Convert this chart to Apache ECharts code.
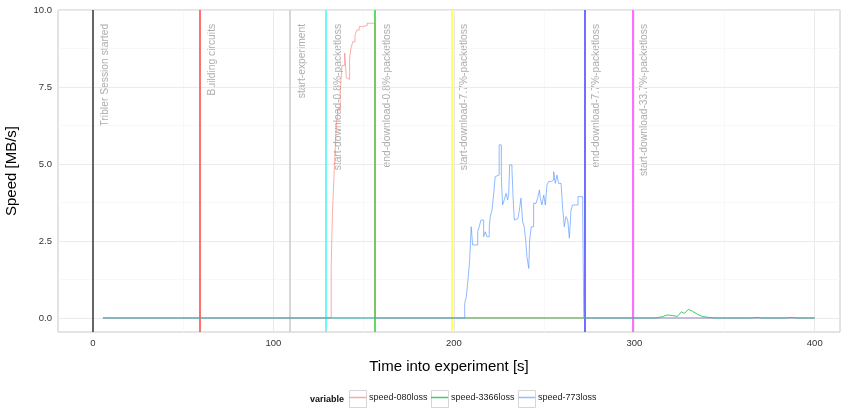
<!DOCTYPE html>
<html><head><meta charset="utf-8">
<script src="https://cdn.jsdelivr.net/npm/echarts@6/dist/echarts.min.js"></script>
<style>html,body{margin:0;padding:0;background:#fff}#c{width:842px;height:409px}</style>
</head><body><div id="c"></div>
<script>
// ---- data ----
const seriesNames = ['speed-080loss', 'speed-3366loss', 'speed-773loss'];

const t080 = [5.5, 132.0, 132.7, 133.8, 134.8, 135.8, 137.0, 138.0, 139.5, 140.4, 141.5, 142.2, 143.0, 144.0, 145.2, 146.3, 147.5, 149.5, 152.0, 156.4, 400];
const v080 = [0, 1.67, 3.42, 4.97, 6.2, 6.8, 7.35, 8.2, 8.6, 7.8, 7.75, 8.45, 8.77, 8.97, 9.19, 9.35, 9.46, 9.5, 9.57, 0, 0];

const t3366 = [5.5, 312, 316, 318.3, 321, 323.9, 326.1, 327.8, 330, 332.2, 335, 337.7, 341, 345, 365, 368, 371, 384, 387, 390, 400];
const v3366 = [0, 0, 0.05, 0.1, 0.08, 0.05, 0.2, 0.15, 0.28, 0.22, 0.12, 0.05, 0.02, 0, 0, 0.02, 0, 0, 0.02, 0, 0];

const t773 = [5.5, 206.0, 206.9, 207.8, 208.7, 209.6, 210.4, 213.2, 214.3, 215.0, 216.5, 217.4, 218.3, 219.6, 220.2, 221.1, 222.0, 222.9, 223.8, 225.1, 226.3, 227.0, 227.9, 228.9, 229.8, 230.4, 230.9, 232.2, 232.8, 233.5, 234.6, 235.5, 236.3, 237.2, 238.1, 239.0, 239.8, 240.5, 241.5, 242.0, 242.9, 244.2, 245.5, 246.4, 247.4, 247.9, 248.8, 249.8, 250.7, 251.6, 252.5, 253.8, 255.3, 256.2, 257.1, 258.1, 259.4, 260.3, 261.2, 262.1, 263.1, 264.0, 264.9, 265.8, 268.8, 271.4, 272.0, 400];
const v773 = [0, 0.48, 0.69, 1.23, 1.83, 2.96, 2.37, 2.8, 3.02, 3.18, 2.64, 2.8, 2.64, 2.96, 3.29, 3.5, 3.99, 4.59, 4.64, 5.62, 4.59, 3.67, 3.83, 4.05, 3.83, 4.05, 4.97, 4.8, 3.94, 3.18, 3.23, 3.18, 3.5, 3.89, 3.13, 2.96, 2.53, 1.99, 1.61, 2.53, 2.96, 3.72, 3.78, 3.89, 4.16, 3.89, 3.67, 3.99, 3.67, 4.32, 4.43, 4.48, 4.75, 4.37, 4.64, 4.37, 4.43, 3.56, 2.96, 3.29, 3.18, 2.59, 3.5, 3.67, 3.94, 3.4, 0, 0];

const eventTimes = [0, 59.3, 109.3, 129.2, 156.4, 199.1, 272.3, 298.9];
const eventLabels = ['Tribler Session started', 'Building circuits', 'start-experiment',
  'start-download-0.8%-packetloss', 'end-download-0.8%-packetloss',
  'start-download-7.7%-packetloss', 'end-download-7.7%-packetloss',
  'start-download-33.7%-packetloss'];
const eventLabelY = 9.55;

const xTicks = [0, 100, 200, 300, 400];
const xMinor = [50, 150, 250, 350];
const yTicks = [0, 2.5, 5, 7.5, 10];
const yMinor = [1.25, 3.75, 6.25, 8.75];

// ---- styles ----
const FONT = '"Liberation Sans", Arial, Helvetica, sans-serif';
const eventColors = ['#555555', '#ff6060', '#d3d3d3', '#5ff8f8', '#4fd84f', '#ffff5a', '#6060ff', '#ff60ff'];
const seriesColors = ['rgba(248,118,109,0.6)', 'rgba(0,186,56,0.75)', 'rgba(97,156,255,0.7)'];
const legendColors = ['#f9aaa5', '#45c96f', '#95bcff'];
const legendLeft = [349, 431, 518];

function pairs(t, v) { return t.map((x, i) => [x, v[i]]); }

const chart = echarts.init(document.getElementById('c'), null, { renderer: 'canvas' });

const gridLines = [].concat(
  xMinor.map(x => ({ xAxis: x, lineStyle: { color: '#f5f5f5', width: 0.7, type: 'solid' } })),
  yMinor.map(y => ({ yAxis: y, lineStyle: { color: '#f5f5f5', width: 0.7, type: 'solid' } })),
  xTicks.map(x => ({ xAxis: x, lineStyle: { color: '#ebebeb', width: 1, type: 'solid' } })),
  yTicks.map(y => ({ yAxis: y, lineStyle: { color: '#ebebeb', width: 1, type: 'solid' } }))
);

const dataSeries = [[t080, v080, 'end'], [t3366, v3366, false], [t773, v773, 'end']].map((d, i) => ({
  name: seriesNames[i],
  type: 'line',
  step: d[2],
  data: pairs(d[0], d[1]),
  showSymbol: false,
  symbol: 'none',
  lineStyle: { color: seriesColors[i], width: 1 },
  itemStyle: { color: seriesColors[i] },
  z: 5,
  animation: false
}));

const option = {
  backgroundColor: '#fff',
  animation: false,
  textStyle: { fontFamily: FONT },
  grid: { left: 58, right: 2, top: 10, bottom: 77, show: true, containLabel: false, outerBoundsMode: 'none',
    borderColor: '#c8c8c8', borderWidth: 1, backgroundColor: '#fff' },
  xAxis: {
    type: 'value', min: -19.4, max: 414,
    axisLine: { show: false },
    splitLine: { show: false },
    axisTick: { show: true, customValues: xTicks, length: 4, lineStyle: { color: '#333', width: 1 } },
    axisLabel: { customValues: xTicks, fontSize: 9.5, color: '#333', margin: 6, fontFamily: FONT },
    name: 'Time into experiment [s]', nameLocation: 'middle', nameGap: 27,
    nameTextStyle: { fontSize: 15, color: '#000', fontFamily: FONT }
  },
  yAxis: {
    type: 'value', min: -0.455, max: 10,
    axisLine: { show: false },
    splitLine: { show: false },
    axisTick: { show: true, customValues: yTicks, length: 4, lineStyle: { color: '#333', width: 1 } },
    axisLabel: { customValues: yTicks, fontSize: 9.5, color: '#333', margin: 6, fontFamily: FONT,
      formatter: v => Number(v).toFixed(1) },
    name: 'Speed [MB/s]', nameLocation: 'middle', nameGap: 39, nameRotate: 90,
    nameTextStyle: { fontSize: 15, color: '#000', fontFamily: FONT }
  },
  legend: seriesNames.map((n, i) => ({
    data: [n], left: legendLeft[i], top: 393, padding: 0, orient: 'horizontal',
    itemWidth: 17, itemHeight: 1.5, itemGap: 0,
    icon: 'rect',
    itemStyle: { color: legendColors[i], borderWidth: 0 },
    textStyle: { fontSize: 9, color: '#222', fontFamily: FONT, padding: [0, 0, 0, -2] },
    selectedMode: false
  })),
  graphic: [].concat(
    legendLeft.map(x => ({ type: 'rect', left: x, top: 390, z: 0,
      shape: { width: 17, height: 17 }, style: { fill: '#fff', stroke: '#d6d6d6', lineWidth: 1 } })),
    [{ type: 'text', left: 310, top: 395, z: 10,
      style: { text: 'variable', font: 'bold 9px ' + FONT, fill: '#111' } }]
  ),
  series: [
    { name: 'grid', type: 'line', data: [], silent: true, z: 1,
      markLine: { silent: true, symbol: ['none', 'none'], label: { show: false }, animation: false, data: gridLines } },
    { name: 'events', type: 'line', data: [], silent: true, z: 2,
      markLine: { silent: true, symbol: ['none', 'none'], label: { show: false }, animation: false,
        data: eventTimes.map((t, i) => ({ xAxis: t, lineStyle: { color: eventColors[i], width: 1.8, type: 'solid' } })) } },
    { name: 'eventLabels', type: 'scatter', symbolSize: 0, silent: true, z: 3,
      data: eventTimes.map(t => [t, eventLabelY]),
      label: { show: true, position: [12, 0], rotate: 90, align: 'right', verticalAlign: 'middle',
        fontSize: 10.3, color: '#999', fontFamily: FONT,
        formatter: p => eventLabels[p.dataIndex] } }
  ].concat(dataSeries)
};
chart.setOption(option);
</script>
</body></html>
